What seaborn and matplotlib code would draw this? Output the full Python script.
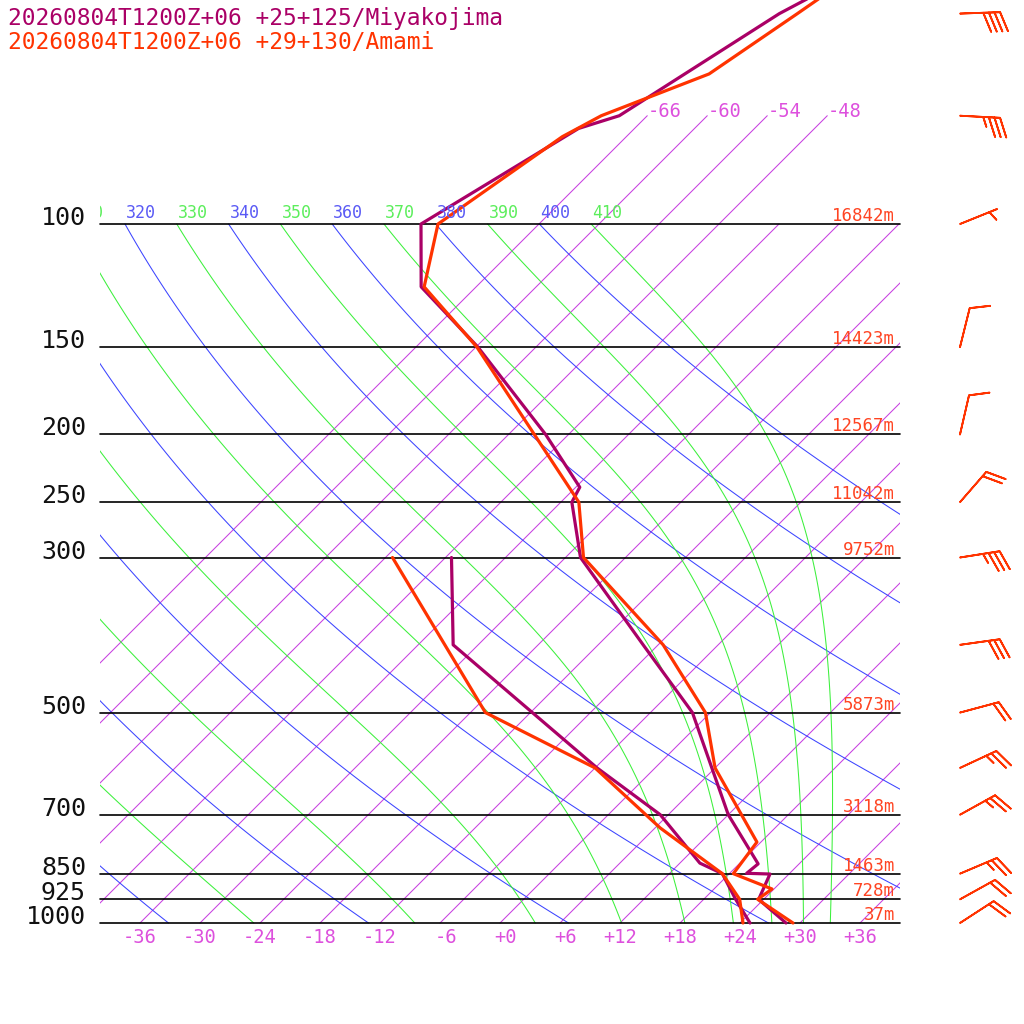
import numpy as np
import pandas as pd
import matplotlib
matplotlib.use('Agg')
import matplotlib.pyplot as plt
from matplotlib.patches import Rectangle
import seaborn as sns

# ---- sounding data ----
# Miyakojima
miya_t_p = [1000, 925, 851, 849, 823, 700, 500, 400, 300, 250, 238, 200, 150, 123, 100, 73, 70, 50, 40]
miya_t = [28.6, 23.5, 22.1, 19.7, 19.9, 12.0, -1.8, -13.5, -28.5, -34.9, -35.6, -44.3, -59.8, -71.5, -77.8, -71.6, -68.8, -63.0, -57.0]
miya_td_p = [1000, 925, 850, 821, 700, 600, 400, 300]
miya_td = [25.0, 21.2, 17.3, 14.0, 5.2, -5.8, -32.5, -41.4]

# Amami
amami_t_p = [1000, 925, 894, 850, 766, 600, 500, 400, 300, 250, 150, 123, 100, 75, 70, 61, 50, 40]
amami_t = [29.3, 23.4, 23.8, 18.4, 17.6, 6.0, -0.5, -11.5, -28.2, -34.2, -59.9, -71.2, -76.1, -72.4, -70.6, -64.0, -61.2, -58.2]
amami_td_p = [1000, 925, 850, 731, 600, 500, 300]
amami_td = [24.3, 21.6, 17.3, 6.5, -6.0, -22.5, -47.3]

# Amami winds (direction deg, speed kt)
wind_p = [1000, 925, 850, 700, 600, 500, 400, 300, 250, 200, 150, 100, 70, 50]
wind_dir = [57, 61, 67, 61, 65, 75, 82, 81, 41, 13, 14, 68, 93, 88]
wind_spd = [20, 20, 25, 25, 25, 20, 30, 35, 20, 10, 10, 5, 35, 40]

# mandatory levels with heights (Amami)
levels = [1000, 925, 850, 700, 500, 300, 250, 200, 150, 100]
heights = [37, 728, 1463, 3118, 5873, 9752, 11042, 12567, 14423, 16842]

isotherms = list(range(-66, 37, 6))
dry_thetas = list(range(240, 401, 20))
moist_thetas = list(range(250, 411, 20))

c_miya = '#aa0066'
c_amami = '#ff3300'
c_iso = '#c840e0'
c_dry = '#3c44ff'
c_moist = '#3cf03c'

SKEW = 69.9  # skew in deg C per decade of pressure


def skew_x(t, p):
    return np.asarray(t, float) + SKEW * np.log10(1000.0 / np.asarray(p, float))


def dtdp_moist(T, p):
    es = 6.112 * np.exp(17.67 * (T - 273.15) / (T - 29.65))
    rs = 0.622 * es / (p - es)
    num = 287.04 * T + 2.501e6 * rs
    den = 1005.7 + 2.501e6 ** 2 * rs * 0.622 / (287.04 * T ** 2)
    return num / (p * den)


def moist_adiabat(theta, ps):
    T = theta * (ps[0] / 1000.0) ** 0.2857
    out = [T]
    for i in range(1, len(ps)):
        p0, p1 = ps[i - 1], ps[i]
        k1 = dtdp_moist(T, p0)
        k2 = dtdp_moist(T + k1 * (p1 - p0) / 2, (p0 + p1) / 2)
        T = T + k2 * (p1 - p0)
        out.append(T)
    return np.array(out) - 273.15


sns.set_style('white')
plt.rcParams['font.family'] = ['DejaVu Sans Mono']

fig = plt.figure(figsize=(10.24, 10.24), dpi=100)
ax = fig.add_axes([0, 0, 1, 1])
ax.set_yscale('log')
ax.set_xlim(-50, 52.4)
ax.set_ylim(1000 * 10 ** (101 / 699), 1000 * 10 ** (-923 / 699))
ax.axis('off')

clip = Rectangle((100 / 1024, 0), 800 / 1024, 1, transform=ax.transAxes)

# isotherms
for t in isotherms:
    ptop = 70 if t <= -48 else 100
    pp = np.array([1000, ptop])
    ln, = ax.plot(skew_x([t, t], pp), pp, color=c_iso, lw=0.75)
    ln.set_clip_path(clip)
    if -36 <= t <= 36:
        ax.annotate(f'{t:+d}', (t + 1.7, 1000), xytext=(0, -5), textcoords='offset pixels',
                    ha='right', va='top', color='#dd50dd', fontsize=13.5, annotation_clip=False)
    if ptop == 70:
        ax.annotate(f'{t:+d}', (skew_x(t, 70), 70), xytext=(0, -1), textcoords='offset pixels',
                    ha='left', va='baseline', color='#dd50dd', fontsize=13.5)

# dry and moist adiabats
pgrid = np.logspace(2, 3, 120)
for th in dry_thetas:
    tt = th * (pgrid / 1000.0) ** 0.2857 - 273.15
    ln, = ax.plot(skew_x(tt, pgrid), pgrid, color=c_dry, lw=0.75)
    ln.set_clip_path(clip)
for th in moist_thetas:
    tt = moist_adiabat(th, pgrid)
    ln, = ax.plot(skew_x(tt, pgrid), pgrid, color=c_moist, lw=0.75)
    ln.set_clip_path(clip)

for th in sorted(dry_thetas + moist_thetas):
    t100 = th * 0.1 ** 0.2857 - 273.15
    xs = skew_x(t100, 100)
    if xs < -43:
        continue
    col = '#5a5af5' if th in dry_thetas else '#5cee5c'
    txt = ax.annotate(f'{th}', (xs, 100), xytext=(1, 6), textcoords='offset pixels',
                      ha='left', va='baseline', color=col, fontsize=12)
    txt.set_clip_path(clip)

# pressure lines, labels and heights
for p, h in zip(levels, heights):
    ax.plot([-40, 40], [p, p], color='black', lw=1.2)
    ax.annotate(f'{p}', (-41.4, p), xytext=(0, -1), textcoords='offset pixels',
                ha='right', va='baseline', fontsize=18, color='#111111')
    ax.annotate(f'{h}m', (39.5, p), xytext=(0, 3), textcoords='offset pixels',
                ha='right', va='baseline', fontsize=12.5, color='#ff4422')

# profiles
for pp, vals, col in [(miya_t_p, miya_t, c_miya), (miya_td_p, miya_td, c_miya),
                      (amami_t_p, amami_t, c_amami), (amami_td_p, amami_td, c_amami)]:
    df = pd.DataFrame({'x': skew_x(vals, pp), 'p': pp})
    sns.lineplot(data=df, x='x', y='p', sort=False, estimator=None, color=col,
                 lw=2.3, ax=ax, legend=False)
ax.set_xlim(-50, 52.4)
ax.set_ylim(1000 * 10 ** (101 / 699), 1000 * 10 ** (-923 / 699))
ax.axis('off')

# wind barbs
wd = np.deg2rad(wind_dir)
ws = np.array(wind_spd, float)
u = -ws * np.sin(wd)
v = -ws * np.cos(wd)
ax.barbs(np.full(len(wind_p), 46.0), wind_p, u, v, length=7.6, color=c_amami,
         linewidth=1.3, sizes=dict(spacing=0.14, height=0.48, width=0.36), clip_on=False)

# station legend
fig.text(8 / 1024, 1 - 25 / 1024, '20260804T1200Z+06 +25+125/Miyakojima',
         color=c_miya, fontsize=16.5, va='baseline')
fig.text(8 / 1024, 1 - 49 / 1024, '20260804T1200Z+06 +29+130/Amami',
         color=c_amami, fontsize=16.5, va='baseline')

fig.savefig('out.png', dpi=100, facecolor='white')
